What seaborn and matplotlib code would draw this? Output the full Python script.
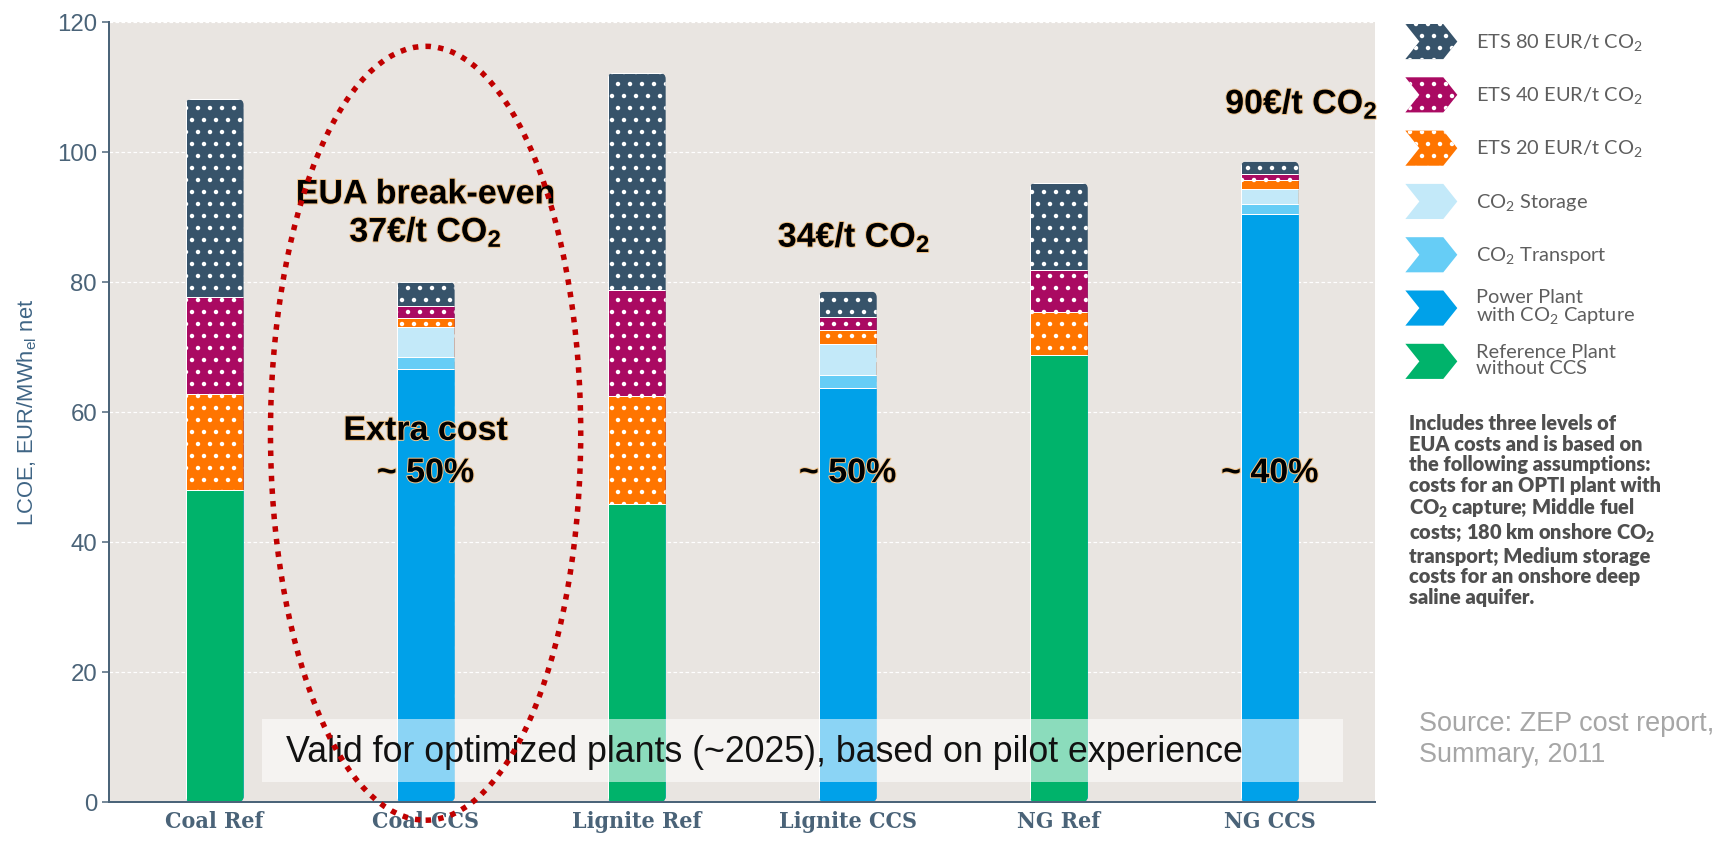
import numpy as np
import pandas as pd
import matplotlib
matplotlib.use("Agg")
import matplotlib.pyplot as plt
import seaborn as sns
from matplotlib.patches import Polygon, Ellipse, Rectangle, Patch, FancyBboxPatch
from matplotlib.legend_handler import HandlerPatch
import matplotlib.patheffects as pe

# ---------------- data ----------------
categories = ["Coal Ref", "Coal CCS", "Lignite Ref", "Lignite CCS", "NG Ref", "NG CCS"]
reference_plant = [48.0, 0.0, 45.8, 0.0, 68.7, 0.0]
power_plant_capture = [0.0, 66.6, 0.0, 63.7, 0.0, 90.4]
co2_transport = [0.0, 1.8, 0.0, 2.0, 0.0, 1.6]
co2_storage = [0.0, 4.6, 0.0, 4.7, 0.0, 2.2]
ets_20 = [14.8, 1.4, 16.7, 2.2, 6.6, 1.4]
ets_40 = [14.9, 1.8, 16.3, 2.0, 6.5, 0.9]
ets_80 = [30.4, 3.8, 33.3, 3.9, 13.4, 2.0]

series_labels = ["Reference Plant\nwithout CCS", "Power Plant\nwith CO$_2$ Capture",
                 "CO$_2$ Transport", "CO$_2$ Storage", "ETS 20 EUR/t CO$_2$",
                 "ETS 40 EUR/t CO$_2$", "ETS 80 EUR/t CO$_2$"]
series_colors = ["#00b36b", "#00a1e9", "#66cdf6", "#c3e9f9", "#ff7500", "#aa0a62", "#37536a"]
series_hatch = [None, None, None, None, ".", ".", "."]
yticks = [0, 20, 40, 60, 80, 100, 120]

# ---------------- style ----------------
plt.rcParams["mathtext.default"] = "regular"
plt.rcParams["hatch.color"] = "white"
plt.rcParams["hatch.linewidth"] = 2.0
spine_color = "#4b6479"
tick_color = "#4a6378"

DPI = 72
fig = plt.figure(figsize=(1713.4 / DPI, 841.4 / DPI), dpi=DPI, facecolor="white")
W, H = 1713.0, 841.0
ax = fig.add_axes([109 / W, 39 / H, 1266 / W, 780 / H])
ax.set_facecolor("#e9e5e1")

layers = [reference_plant, power_plant_capture, co2_transport, co2_storage, ets_20, ets_40, ets_80]
cum = np.cumsum(np.array(layers), axis=0)
for i in reversed(range(len(layers))):
    df = pd.DataFrame({"plant": categories, "value": cum[i]})
    sns.barplot(data=df, x="plant", y="value", order=categories, color=series_colors[i],
                saturation=1, width=0.275, hatch=series_hatch[i], edgecolor="white",
                linewidth=1.0, errorbar=None, ax=ax, zorder=2)

ax.set_xlim(-0.5, len(categories) - 0.5)
ax.set_ylim(0, 120)

# rounded corners: clip every stacked column to a rounded box of its own total height
bar_patches = [p for p in ax.patches if isinstance(p, Rectangle)]
tops = {}
for p in bar_patches:
    col = int(round(p.get_x() + p.get_width() / 2))
    if col not in tops or p.get_height() > tops[col].get_height():
        tops[col] = p
clips = {}
for col, p in tops.items():
    r_x = 0.03
    clip = FancyBboxPatch((p.get_x(), 0), p.get_width(), p.get_height(),
                          boxstyle=f"round,pad=0,rounding_size={r_x}",
                          mutation_aspect=0.9 / r_x, transform=ax.transData)
    clips[col] = clip
for p in bar_patches:
    col = int(round(p.get_x() + p.get_width() / 2))
    p.set_clip_path(clips[col])

ax.set_yticks(yticks)
ax.set_axisbelow(True)
ax.yaxis.grid(True, color="white", lw=1.2, ls=(0, (3, 2)))
ax.xaxis.grid(False)
for s in ["top", "right"]:
    ax.spines[s].set_visible(False)
for s in ["left", "bottom"]:
    ax.spines[s].set_color(spine_color)
    ax.spines[s].set_linewidth(2)
ax.tick_params(axis="y", length=7, width=1.5, color=spine_color, labelsize=24,
               labelcolor=tick_color, pad=5)
ax.tick_params(axis="x", length=0, labelsize=23, labelcolor=tick_color, pad=9)
for lbl in ax.get_yticklabels():
    lbl.set_fontfamily("Liberation Sans")
for lbl in ax.get_xticklabels():
    lbl.set_fontfamily("DejaVu Serif")
    lbl.set_fontweight("bold")
    lbl.set_fontstretch("condensed")
ax.set_xlabel("")
ax.set_ylabel("LCOE, EUR/MWh$_{el}$ net", fontfamily="Liberation Sans", fontsize=22,
              color="#3f6585", labelpad=18)

# ---------------- annotations ----------------
ax.add_patch(Rectangle((0.225, 3.1), 5.12, 9.7, facecolor="white", alpha=0.55,
                       edgecolor="none", zorder=4))
ax.text(0.34, 7.7, "Valid for optimized plants (~2025), based on pilot experience",
        ha="left", va="center", fontsize=35.8, family="Liberation Sans", color="#111111", zorder=5)

glow = [pe.withStroke(linewidth=2, foreground="#f2c48a")]
ann = dict(ha="center", va="center", fontsize=34, family="Liberation Sans",
           weight="bold", color="black", zorder=7, path_effects=glow)
ax.text(1.0, 93.35, "EUA break-even", **ann)
ax.text(1.0, 87.6, "37€/t CO$_2$", **ann)
ax.text(3.03, 86.8, "34€/t CO$_2$", **ann)
ax.text(5.15, 107.3, "90€/t CO$_2$", **ann)
ax.text(1.0, 57.0, "Extra cost", **ann)
ax.text(1.0, 50.5, "~ 50%", **ann)
ax.text(3.0, 50.5, "~ 50%", **ann)
ax.text(5.0, 50.5, "~ 40%", **ann)

ax.add_patch(Ellipse((1.0, 56.7), width=1.47, height=119, fill=False, edgecolor="#c00000",
                     linewidth=5.5, linestyle=(0, (1, 1.3)), clip_on=False, zorder=8))


# ---------------- legend ----------------
class HandlerChevron(HandlerPatch):
    def create_artists(self, legend, orig_handle, xdescent, ydescent, width, height,
                       fontsize, trans):
        x0, y0 = -xdescent, -ydescent
        h = height * 0.8
        yb = y0 + (height - h) / 2
        n = width * 0.27
        verts = [(x0, yb), (x0 + width - n, yb), (x0 + width, yb + h / 2),
                 (x0 + width - n, yb + h), (x0, yb + h), (x0 + n, yb + h / 2)]
        p = Polygon(verts, closed=True)
        self.update_prop(p, orig_handle, legend)
        p.set_transform(trans)
        return [p]


handles = [Patch(facecolor=c, hatch=h, edgecolor="white", linewidth=0)
           for c, h in zip(series_colors, series_hatch)]
leg = fig.legend(handles[::-1], series_labels[::-1], loc="upper left",
                 bbox_to_anchor=(1405 / W, 1 - 20 / H), frameon=False,
                 handler_map={Patch: HandlerChevron()}, handlelength=2.6,
                 handleheight=3.0, handletextpad=0.95, labelspacing=0.47,
                 borderpad=0, borderaxespad=0, prop={"family": "Lato", "size": 20},
                 labelcolor="#5e5e5e")
for t in leg.get_texts():
    t.set_linespacing(0.95)

note = ("Includes three levels of\nEUA costs and is based on\nthe following assumptions:\n"
        "costs for an OPTI plant with\nCO$_2$ capture; Middle fuel\ncosts; 180 km onshore CO$_2$\n"
        "transport; Medium storage\ncosts for an onshore deep\nsaline aquifer.")
fig.text(1409 / W, 1 - 414 / H, note, ha="left", va="top", family="Lato", weight="heavy",
         fontsize=20, color="#4f4f4f", linespacing=1.1)
fig.text(1419 / W, 1 - 724 / H, "Source: ZEP cost report,", ha="left", va="center",
         family="Liberation Sans", fontsize=27, color="#a6a6a6")
fig.text(1419 / W, 1 - 755 / H, "Summary, 2011", ha="left", va="center",
         family="Liberation Sans", fontsize=27, color="#a6a6a6")

fig.savefig("out.png", dpi=DPI, facecolor="white")
